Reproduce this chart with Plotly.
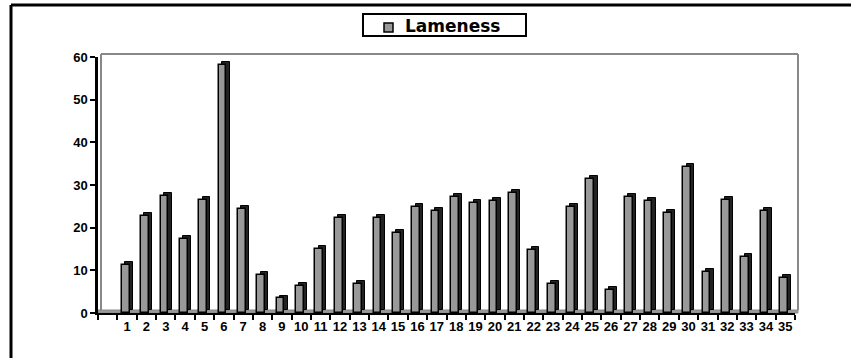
import plotly.graph_objects as go

categories = [""] + [str(i) for i in range(1, 36)]
lameness = [None, 11.3, 22.8, 27.5, 17.4, 26.6, 58.2, 24.4, 9.0, 3.4, 6.4,
            15.0, 22.2, 6.9, 22.2, 18.7, 24.9, 24.0, 27.1, 25.7, 26.2,
            28.2, 14.8, 6.9, 24.9, 31.5, 5.5, 27.1, 26.2, 23.5, 34.3,
            9.6, 26.6, 13.1, 24.0, 8.2]
y_ticks = [0, 10, 20, 30, 40, 50, 60]
series_name = "Lameness"

W, H = 851, 358
L, R, T, B = 98, 56, 57, 45
pw, ph = W - L - R, H - T - B
dx = 3 / pw
dy = 3 / ph


def px(x):
    return (x - L) / pw


def py(y):
    return (H - B - y) / ph


fnt = dict(family="Arial, Liberation Sans, sans-serif", size=13, color="black")

fig = go.Figure()
# side/depth face (3D effect)
fig.add_trace(go.Bar(
    x=categories, y=lameness, base=0.7, width=0.4, offset=-0.1,
    marker=dict(color="#222222", line=dict(color="black", width=1)),
    showlegend=False, hoverinfo="skip"))
# front face
fig.add_trace(go.Bar(
    x=categories, y=lameness, name=series_name, width=0.4, offset=-0.27,
    marker=dict(color="#999999", line=dict(color="black", width=1.5)),
    showlegend=False))

shapes = [
    dict(type="line", xref="paper", yref="paper", x0=dx, x1=1 + dx, y0=1 + dy, y1=1 + dy,
         line=dict(color="#888888", width=2)),
    dict(type="line", xref="paper", yref="paper", x0=1 + dx, x1=1 + dx, y0=dy, y1=1 + dy,
         line=dict(color="#888888", width=2)),
    dict(type="line", xref="paper", yref="paper", x0=dx, x1=dx, y0=dy, y1=1 + dy,
         line=dict(color="#888888", width=2)),
    dict(type="rect", xref="paper", yref="paper", x0=0, x1=1 + dx, y0=0, y1=dy,
         fillcolor="#999999", line=dict(color="#888888", width=1), layer="below"),
    # outer border
    dict(type="line", xref="paper", yref="paper", x0=px(11), x1=px(W + 10),
         y0=py(5), y1=py(5), line=dict(color="black", width=3)),
    dict(type="line", xref="paper", yref="paper", x0=px(11), x1=px(11),
         y0=py(5), y1=py(H + 20), line=dict(color="black", width=3)),
    # legend box
    dict(type="rect", xref="paper", yref="paper", x0=px(363), x1=px(526),
         y0=py(36), y1=py(14), fillcolor="white", line=dict(color="black", width=2)),
    dict(type="rect", xref="paper", yref="paper", x0=px(384), x1=px(393),
         y0=py(32), y1=py(23), fillcolor="#999999", line=dict(color="black", width=1.5)),
]

annotations = [
    dict(xref="paper", yref="paper", x=px(403), y=py(26), xanchor="left", yanchor="middle",
         text=f"<b>{series_name}</b>", showarrow=False,
         font=dict(family="DejaVu Sans, sans-serif", size=17, color="black")),
]

fig.update_layout(
    width=W, height=H,
    margin=dict(l=L, r=R, t=T, b=B, autoexpand=False),
    paper_bgcolor="white", plot_bgcolor="white",
    barmode="overlay", bargap=0,
    font=fnt,
    shapes=shapes,
    annotations=annotations,
    showlegend=False,
    xaxis=dict(
        type="category", categoryorder="array", categoryarray=categories,
        tickvals=categories, ticktext=[f"<b>{c}</b>" for c in categories],
        tickson="boundaries", ticks="outside", ticklen=5, tickcolor="black", tickwidth=1.5,
        showline=True, linecolor="black", linewidth=2,
        showgrid=False, zeroline=False, range=[-0.5, 35.5],
        tickfont=fnt, tickangle=0, automargin=False, fixedrange=True,
    ),
    yaxis=dict(
        range=[0, 60], tickvals=y_ticks, ticktext=[f"<b>{v}</b>" for v in y_ticks],
        ticks="outside", ticklen=5, tickcolor="black", tickwidth=1.5,
        showline=True, linecolor="black", linewidth=2.5,
        showgrid=False, zeroline=False, tickfont=fnt, automargin=False, fixedrange=True,
    ),
)

fig.write_html("out.html", config={"displayModeBar": False},
               post_script="document.body.style.margin='0px';document.body.style.overflow='hidden';")
